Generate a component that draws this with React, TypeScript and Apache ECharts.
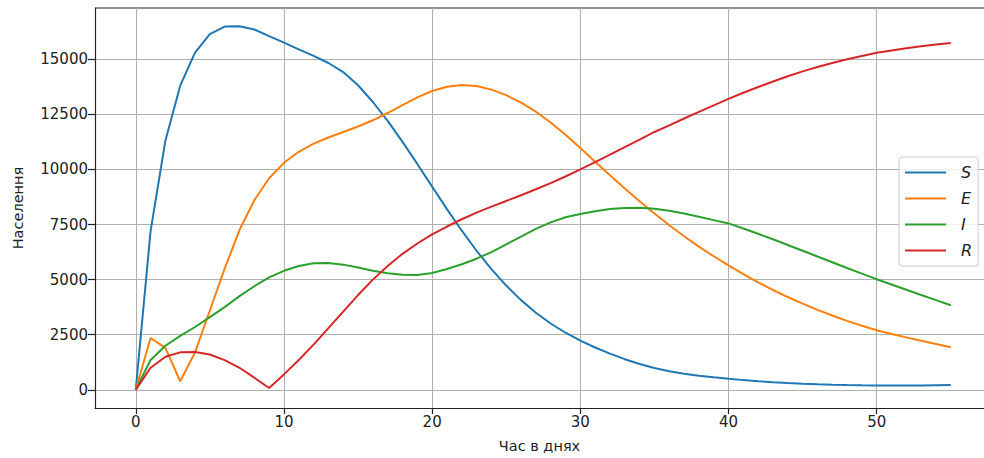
import React, { useEffect, useRef } from "react";
import * as echarts from "echarts";

const days: number[] = Array.from({ length: 56 }, (_, i) => i);

const sValues = [
  0, 7200, 11300, 13800, 15300, 16140, 16480, 16500, 16350, 16050,
  15750, 15450, 15150, 14830, 14420, 13820, 13060, 12200, 11250, 10250,
  9220, 8200, 7220, 6310, 5480, 4730, 4070, 3500, 3010, 2590,
  2230, 1920, 1640, 1390, 1175, 990, 840, 730, 640, 565,
  500, 440, 390, 345, 310, 280, 255, 235, 220, 208,
  200, 196, 196, 200, 207, 215,
];
const eValues = [
  0, 2350, 1900, 390, 1700, 3600, 5500, 7250, 8600, 9600,
  10300, 10800, 11170, 11450, 11700, 11950, 12230, 12560, 12920, 13270,
  13560, 13750, 13830, 13790, 13620, 13370, 13030, 12620, 12130, 11570,
  10970, 10350, 9740, 9140, 8560, 8000, 7470, 6970, 6500, 6060,
  5650, 5250, 4880, 4530, 4210, 3910, 3630, 3370, 3130, 2910,
  2700, 2530, 2380, 2230, 2080, 1930,
];
const iValues = [
  0, 1350, 2000, 2450, 2850, 3300, 3750, 4250, 4700, 5100,
  5400, 5620, 5740, 5750, 5680, 5550, 5400, 5290, 5220, 5210,
  5300, 5480, 5700, 5950, 6250, 6600, 6950, 7300, 7600, 7830,
  7980, 8100, 8200, 8250, 8260, 8220, 8130, 8000, 7850, 7700,
  7550, 7320, 7080, 6830, 6570, 6310, 6050, 5790, 5530, 5270,
  5020, 4780, 4540, 4300, 4070, 3840,
];
const rValues = [
  0, 1000, 1500, 1700, 1720, 1600, 1350, 1000, 550, 80,
  700, 1350, 2050, 2800, 3550, 4300, 5000, 5620, 6170, 6640,
  7050, 7410, 7740, 8040, 8310, 8570, 8830, 9100, 9380, 9680,
  10000, 10330, 10670, 11010, 11350, 11700, 12000, 12310, 12610, 12910,
  13200, 13480, 13740, 13990, 14230, 14450, 14650, 14830, 15000, 15150,
  15290, 15400, 15500, 15590, 15670, 15740,
];

const seriesNames = ["S", "E", "I", "R"];
const seriesColors = ["#1f77b4", "#ff7f0e", "#2ca02c", "#d62728"];
const xTicks = [0, 10, 20, 30, 40, 50];
const yTicks = [0, 2500, 5000, 7500, 10000, 12500, 15000];
const xName = "Час в днях";
const yName = "Населення";

export default function App() {
  const ref = useRef<HTMLDivElement>(null);
  useEffect(() => {
    if (!ref.current) return;
    const chart = echarts.init(ref.current, null, { renderer: "svg" });
    const allValues = [sValues, eValues, iValues, rValues];
    const font = "DejaVu Sans";
    chart.setOption({
      animation: false,
      backgroundColor: "#ffffff",
      grid: { left: 95, right: 0, top: 8, bottom: 48, containLabel: false },
      legend: {
        orient: "vertical",
        left: 899,
        top: 157,
        data: seriesNames,
        icon: "rect",
        itemWidth: 41,
        itemHeight: 2,
        itemGap: 9,
        padding: [7, 6, 7, 6],
        borderColor: "#cccccc",
        borderWidth: 1,
        borderRadius: 3,
        backgroundColor: "rgba(255,255,255,0.8)",
        textStyle: {
          fontFamily: font,
          fontStyle: "italic",
          fontSize: 16,
          lineHeight: 17,
          color: "#222",
          padding: [0, 0, 0, 10],
        },
      },
      xAxis: {
        type: "value",
        min: -2.75,
        max: 57.24,
        name: xName,
        nameLocation: "middle",
        nameGap: 30,
        nameTextStyle: { fontFamily: font, fontSize: 14.5, color: "#222" },
        axisLine: { show: true, onZero: false, lineStyle: { color: "#222", width: 1.2 } },
        axisTick: { show: true, length: 6, customValues: xTicks, lineStyle: { color: "#222", width: 1.2 } },
        axisLabel: {
          customValues: xTicks,
          fontFamily: font,
          fontSize: 15,
          color: "#222",
          margin: 6,
          formatter: (v: number) => String(v),
        },
        splitLine: { show: true, customValues: xTicks, lineStyle: { color: "#b0b0b0", width: 1 } },
      },
      yAxis: {
        type: "value",
        min: -825,
        max: 17325,
        name: yName,
        nameLocation: "middle",
        nameRotate: 90,
        nameGap: 70,
        nameTextStyle: { fontFamily: font, fontSize: 14.5, color: "#222" },
        axisLine: { show: true, onZero: false, lineStyle: { color: "#222", width: 1.2 } },
        axisTick: { show: true, length: 7, customValues: yTicks, lineStyle: { color: "#222", width: 1.2 } },
        axisLabel: {
          customValues: yTicks,
          fontFamily: font,
          fontSize: 15,
          color: "#222",
          margin: 7,
          formatter: (v: number) => String(v),
        },
        splitLine: { show: true, customValues: yTicks, lineStyle: { color: "#b0b0b0", width: 1 } },
      },
      graphic: [
        {
          type: "line",
          shape: { x1: 95, y1: 8, x2: 984, y2: 8 },
          style: { stroke: "#222", lineWidth: 1.2 },
          silent: true,
        },
      ],
      series: seriesNames.map((name, k) => ({
        name,
        type: "line",
        showSymbol: false,
        symbol: "none",
        color: seriesColors[k],
        lineStyle: { width: 2, color: seriesColors[k] },
        data: days.map((d, i) => [d, allValues[k][i]]),
      })),
    });
    return () => chart.dispose();
  }, []);
  return <div ref={ref} style={{ width: 984, height: 458, position: "absolute", left: 0, top: 0 }} />;
}
